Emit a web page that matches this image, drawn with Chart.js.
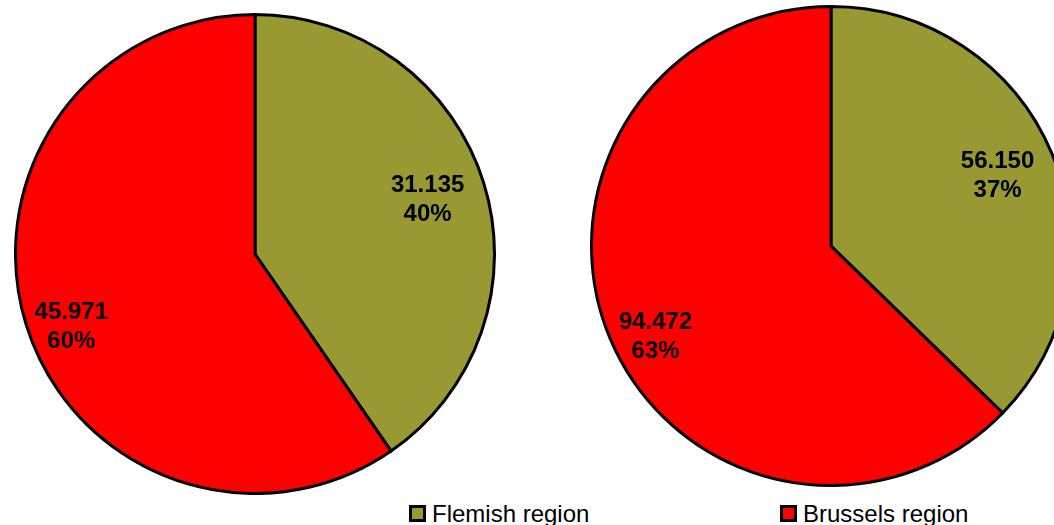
<!DOCTYPE html>
<html>
<head>
<meta charset="utf-8">
<script src="https://cdn.jsdelivr.net/npm/chart.js@4.4.1/dist/chart.umd.min.js"></script>
<style>
  html, body { margin: 0; padding: 0; background: #fff; overflow: hidden; }
  body { width: 1054px; height: 525px; position: relative; }
  .pie { position: absolute; width: 482px; height: 482px; }
  #pieLeft { left: 14px; top: 13px; }
  #pieRight { left: 590px; top: 5px; }
  .legend { position: absolute; top: 502px; height: 24px; line-height: 24px;
            font-family: "Liberation Sans", Arial, sans-serif; font-size: 24px; color: #000;
            white-space: nowrap; }
  .legend .box { position: absolute; left: 0; top: 3px; width: 11px; height: 11px;
                 border: 3px solid #000; }
  .legend .txt { position: absolute; left: 23px; top: 0; }
</style>
</head>
<body>
<canvas id="pieLeft" class="pie" width="482" height="482"></canvas>
<canvas id="pieRight" class="pie" width="482" height="482"></canvas>
<div class="legend" style="left:409px"><span class="box" style="background:#999933"></span><span class="txt">Flemish region</span></div>
<div class="legend" style="left:780px"><span class="box" style="background:#ff0000"></span><span class="txt">Brussels region</span></div>
<script>
// Regions shown in each pie
const regions = ['Flemish region', 'Brussels region'];
// Left pie values
const leftValues = [31135, 45971];
// Right pie values
const rightValues = [56150, 94472];
const sliceColors = ['#999933', '#ff0000'];

// where each slice's label sits: fraction along the slice and fraction of the radius
const labelAngleFrac = [0.5, 0.48];
const labelRadiusFrac = [0.755, 0.825];

function formatThousands(v) {
  return String(v).replace(/\B(?=(\d{3})+(?!\d))/g, '.');
}

const sliceLabels = {
  id: 'sliceLabels',
  afterDatasetsDraw(chart) {
    const ctx = chart.ctx;
    const data = chart.data.datasets[0].data;
    const total = data.reduce((a, b) => a + b, 0);
    const arcs = chart.getDatasetMeta(0).data;
    ctx.save();
    ctx.font = 'bold 24px "Liberation Sans", Arial, sans-serif';
    ctx.fillStyle = '#000';
    ctx.textAlign = 'center';
    ctx.textBaseline = 'middle';
    arcs.forEach((arc, i) => {
      const p = arc.getProps(['x', 'y', 'startAngle', 'endAngle', 'outerRadius'], true);
      const a = p.startAngle + labelAngleFrac[i] * (p.endAngle - p.startAngle);
      const r = labelRadiusFrac[i] * p.outerRadius;
      const cx = p.x + Math.cos(a) * r;
      const cy = p.y + Math.sin(a) * r;
      ctx.fillText(formatThousands(data[i]), cx, cy - 14.5);
      ctx.fillText(Math.round(data[i] / total * 100) + '%', cx, cy + 14.5);
    });
    ctx.restore();
  }
};

function makePie(id, values) {
  return new Chart(document.getElementById(id), {
    type: 'pie',
    data: {
      labels: regions,
      datasets: [{
        data: values,
        backgroundColor: sliceColors,
        borderColor: '#000',
        borderWidth: 3,
        borderJoinStyle: 'miter'
      }]
    },
    options: {
      responsive: false,
      animation: false,
      layout: { padding: 0 },
      plugins: { legend: { display: false }, tooltip: { enabled: false } }
    },
    plugins: [sliceLabels]
  });
}

makePie('pieLeft', leftValues);
makePie('pieRight', rightValues);
</script>
</body>
</html>
